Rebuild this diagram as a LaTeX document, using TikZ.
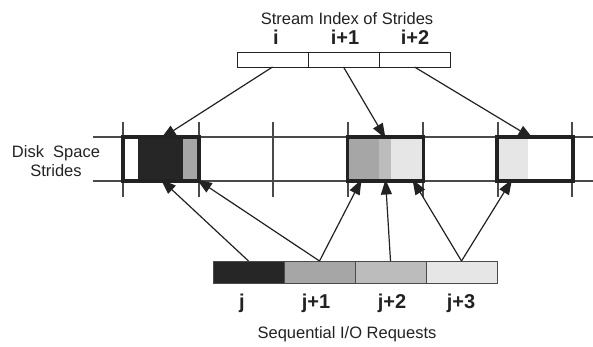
\documentclass[tikz,border=0pt]{standalone}
\usepackage{fontspec}
\setmainfont{Liberation Sans}
\usetikzlibrary{arrows.meta}
\definecolor{ink}{HTML}{222222}
\definecolor{rule}{HTML}{4A4A4A}
\definecolor{shadeA}{HTML}{262626}
\definecolor{shadeB}{HTML}{A6A6A6}
\definecolor{shadeC}{HTML}{BCBCBC}
\definecolor{shadeD}{HTML}{E6E6E6}
\tikzset{
  cell/.style={draw=ink, line width=0.9pt, minimum width=71pt, minimum height=15pt, inner sep=0pt, outer sep=0pt},
  reqcell/.style={draw=rule, line width=1pt, minimum width=71pt, minimum height=22pt, inner sep=0pt, outer sep=0pt},
  stridebox/.style={minimum width=76pt, minimum height=44pt, inner sep=0pt, outer sep=0pt},
  boxline/.style={draw=ink, line width=3.2pt},
  guide/.style={draw=rule, line width=1.1pt},
  link/.style={draw=ink, line width=1.2pt, -{Triangle[length=15pt,width=11pt]}},
  title/.style={font=\fontsize{16.5}{19}\selectfont, text=ink, inner sep=0pt},
  idx/.style={font=\fontsize{20}{22}\selectfont\bfseries, text=ink, inner sep=0pt, anchor=base}
}
\begin{document}
\begin{tikzpicture}[x=1pt, y=-1pt]
  \useasboundingbox (0,0) rectangle (593,346);

  % stream index of strides
  \node[title, anchor=base] (ttop) at (347,24) {Stream Index of Strides};
  \node[cell] (si)  at (272.5,59.5) {};
  \node[cell] (si1) at (343.5,59.5) {};
  \node[cell] (si2) at (414.5,59.5) {};
  \node[idx] (li)  at (276,44) {i};
  \node[idx] (li1) at (345,44) {i+1};
  \node[idx] (li2) at (415,44) {i+2};

  % disk space: guide lines and stride ticks
  \draw[guide] (93,137) -- (593,137);
  \draw[guide] (93,181) -- (593,181);
  \foreach \x in {123,199,273,348,423,498,572}
    \draw[guide] (\x,122) -- (\x,197);

  % contents of the strides
  \fill[white]  (123,137) rectangle (138,181);
  \fill[shadeA] (138,137) rectangle (183,181);
  \fill[shadeB] (183,137) rectangle (199,181);
  \fill[shadeB] (348,137) rectangle (379,181);
  \fill[shadeC] (379,137) rectangle (391,181);
  \fill[shadeD] (391,137) rectangle (423,181);
  \fill[shadeD] (498,137) rectangle (528,181);
  \fill[white]  (528,137) rectangle (572,181);

  \node[stridebox] (d1) at (161,159) {};
  \node[stridebox] (d2) at (385.5,159) {};
  \node[stridebox] (d3) at (535,159) {};
  \foreach \b in {d1,d2,d3}
    \draw[boxline] (\b.north west) rectangle (\b.south east);

  \node[title, align=center, font=\fontsize{16.5}{19}\selectfont] (ldisk) at (56,161) {Disk\ \ Space\\Strides};

  % sequential I/O requests
  \node[reqcell, fill=shadeA] (r0) at (248.5,272) {};
  \node[reqcell, fill=shadeB] (r1) at (319.5,272) {};
  \node[reqcell, fill=shadeC] (r2) at (390.5,272) {};
  \node[reqcell, fill=shadeD] (r3) at (461.5,272) {};
  \node[idx] (lj0) at (242,308) {j};
  \node[idx] (lj1) at (316,308) {j+1};
  \node[idx] (lj2) at (392,308) {j+2};
  \node[idx] (lj3) at (461,308) {j+3};
  \node[title, anchor=base] (tbot) at (347,338) {Sequential I/O Requests};

  % index -> stride
  \draw[link] (si.south)  -- ([yshift=-1.5pt]d1.north);
  \draw[link] (si1.south) -- ([yshift=-1.5pt]d2.north);
  \draw[link] (si2.south) -- ([xshift=-2pt,yshift=-1.5pt]d3.north);

  % request -> stride
  \draw[link] (r0.north) -- ([yshift=1.5pt]d1.south);
  \draw[link] (r1.north) -- ([xshift=-2pt,yshift=1.5pt]d1.south east);
  \draw[link] (r1.north) -- ([xshift=14pt,yshift=1.5pt]d2.south west);
  \draw[link] (r2.north) -- ([yshift=1.5pt]d2.south);
  \draw[link] (r3.north) -- ([xshift=-11pt,yshift=1.5pt]d2.south east);
  \draw[link] (r3.north) -- ([xshift=15pt,yshift=1.5pt]d3.south west);
\end{tikzpicture}
\end{document}
